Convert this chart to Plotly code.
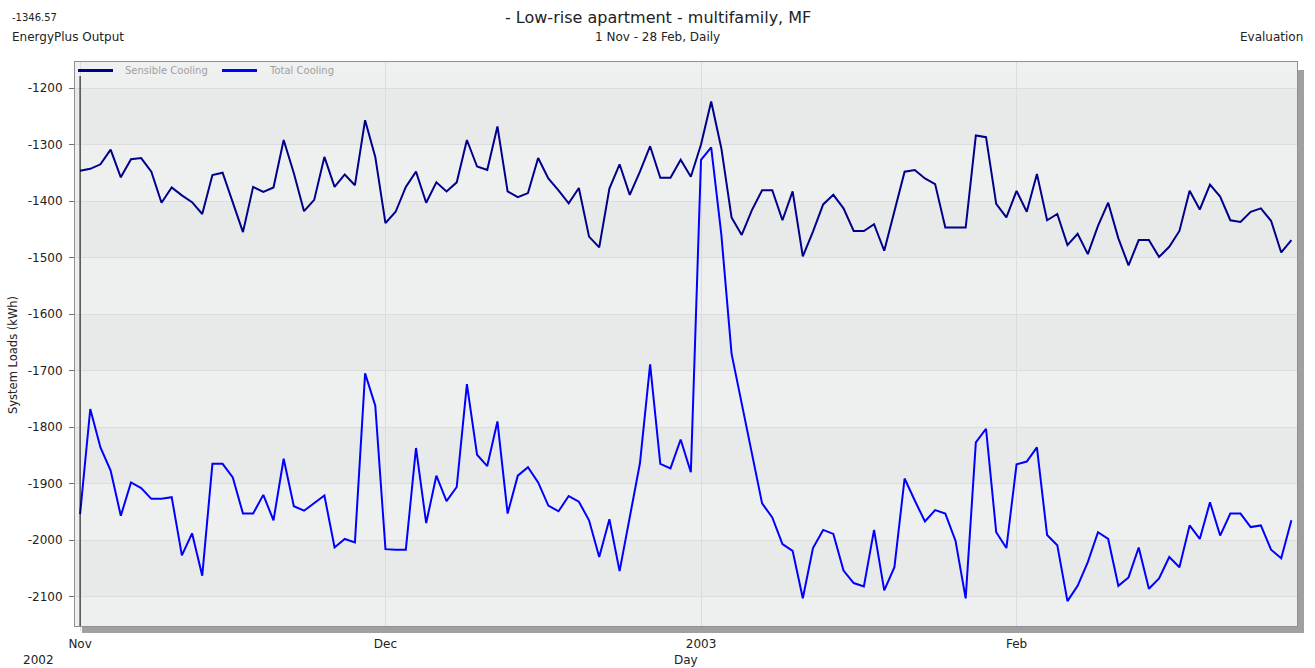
import pandas as pd
import plotly.graph_objects as go

start_date = "2002-11-01"
n_days = 120
days = pd.date_range(start_date, periods=n_days, freq="D")

sensible_cooling = [
    -1346.57, -1343, -1335, -1309, -1358, -1326, -1324, -1348, -1403, -1376,
    -1390, -1402, -1423, -1354, -1350, -1401, -1455, -1375, -1384, -1376,
    -1292, -1351, -1418, -1398, -1322, -1375, -1353, -1372, -1257, -1322,
    -1439, -1419, -1375, -1348, -1403, -1367, -1383, -1367, -1292, -1339,
    -1345, -1268, -1383, -1393, -1386, -1324, -1360, -1381, -1404, -1377,
    -1463, -1482, -1378, -1335, -1389, -1348, -1303, -1359, -1359, -1327,
    -1357, -1300, -1224, -1307, -1429, -1460, -1416, -1381, -1381, -1434,
    -1383, -1498, -1454, -1406, -1389, -1413, -1453, -1453, -1441, -1488,
    -1419, -1348, -1345, -1360, -1370, -1447, -1447, -1447, -1284, -1287,
    -1405, -1429, -1382, -1419, -1352, -1434, -1423, -1478, -1458, -1494,
    -1444, -1403, -1466, -1514, -1469, -1469, -1499, -1481, -1453, -1382,
    -1415, -1371, -1392, -1434, -1437, -1419, -1413, -1435, -1491, -1469,
]

total_cooling = [
    -1954, -1768, -1836, -1877, -1957, -1898, -1908, -1927, -1927, -1924,
    -2027, -1988, -2063, -1865, -1865, -1889, -1953, -1953, -1920, -1965,
    -1856, -1940, -1948, -1935, -1921, -2013, -1998, -2004, -1705, -1762,
    -2016, -2017, -2017, -1837, -1970, -1886, -1931, -1906, -1724, -1849,
    -1869, -1790, -1953, -1886, -1871, -1898, -1939, -1949, -1922, -1932,
    -1965, -2030, -1963, -2055, -1960, -1864, -1689, -1865, -1873, -1822,
    -1880, -1327, -1305, -1460, -1670, -1759, -1850, -1935, -1960, -2007,
    -2019, -2103, -2014, -1982, -1989, -2054, -2076, -2082, -1982, -2089,
    -2048, -1891, -1930, -1967, -1947, -1953, -2001, -2103, -1827, -1803,
    -1986, -2014, -1866, -1861, -1836, -1991, -2009, -2108, -2081, -2039,
    -1986, -1998, -2081, -2066, -2013, -2086, -2068, -2030, -2048, -1974,
    -1998, -1933, -1992, -1953, -1953, -1977, -1974, -2017, -2032, -1965,
]

x_tick_dates = ["2002-11-01", "2002-12-01", "2003-01-01", "2003-02-01"]
x_tick_labels = ["Nov", "Dec", "2003", "Feb"]
y_tick_values = [-1200, -1300, -1400, -1500, -1600, -1700, -1800, -1900, -2000, -2100]
y_tick_labels = ["-1200", "-1300", "-1400", "-1500", "-1600", "-1700", "-1800", "-1900", "-2000", "-2100"]
series_names = ["Sensible Cooling", "Total Cooling"]
series_colors = ["#00008B", "#0000FF"]

FONT = "DejaVu Sans, Verdana, sans-serif"
TXT = "#222222"
W, H = 1315, 668
ML, MR, MT, MB = 75, 18, 62, 42
PW, PH = W - ML - MR, H - MT - MB


def px(xp):
    return (xp - ML) / PW


def py(yp):
    return (H - MB - yp) / PH


fig = go.Figure()
for name, vals, col in zip(series_names, [sensible_cooling, total_cooling], series_colors):
    fig.add_trace(go.Scatter(x=days, y=vals, mode="lines", name=name,
                             line=dict(color=col, width=2), showlegend=False))

shapes = []
dark_bands = [(-1200, -1300), (-1400, -1500), (-1600, -1700), (-1800, -1900), (-2000, -2100)]
for y0, y1 in dark_bands:
    shapes.append(dict(type="rect", xref="paper", yref="y", x0=0, x1=1, y0=y0, y1=y1,
                       fillcolor="#e8e9e9", line=dict(width=0), layer="below"))
shapes.append(dict(type="rect", xref="paper", yref="paper", x0=0, x1=1, y0=py(76), y1=1,
                   fillcolor="#eff0f0", line=dict(width=0), layer="between"))
# shadow
shapes.append(dict(type="rect", xref="paper", yref="paper", x0=px(82), x1=px(1304),
                   y0=py(633), y1=py(627), fillcolor="#a0a0a0", line=dict(width=0)))
shapes.append(dict(type="rect", xref="paper", yref="paper", x0=px(1298), x1=px(1304),
                   y0=py(633), y1=py(70), fillcolor="#a0a0a0", line=dict(width=0)))
# black line at start
shapes.append(dict(type="line", xref="x", yref="paper", x0=days[0], x1=days[0],
                   y0=0, y1=py(76), line=dict(color="black", width=1)))

leg_x = [(78, 113, 123), (222, 257, 267)]
annotations = []
for (a, b, t), name, col in zip(leg_x, series_names, series_colors):
    shapes.append(dict(type="line", xref="paper", yref="paper", x0=px(a), x1=px(b),
                       y0=py(70.5), y1=py(70.5), line=dict(color=col, width=3)))
    annotations.append(dict(xref="paper", yref="paper", x=px(t), y=py(70.5), text=name,
                            showarrow=False, xanchor="left", yanchor="middle",
                            font=dict(size=10, color="#a0a0a0", family=FONT)))


def txt(x, y, s, size, anchor="center", angle=0):
    return dict(xref="paper", yref="paper", x=px(x), y=py(y), text=s, showarrow=False,
                xanchor=anchor, yanchor="middle", textangle=angle,
                font=dict(size=size, color=TXT, family=FONT))


annotations += [
    txt(10, 17, "-1346.57", 10, "left"),
    txt(10, 37, "EnergyPlus Output", 12, "left"),
    txt(657.5, 17, "- Low-rise apartment - multifamily, MF", 16),
    txt(657.5, 37, "1 Nov - 28 Feb, Daily", 12),
    txt(1305, 37, "Evaluation", 12, "right"),
    txt(38, 660, "2002", 12),
    txt(686, 660, "Day", 12),
    txt(13, 355, "System Loads (kWh)", 11.5, angle=-90),
]

x0 = pd.Timestamp(start_date) - pd.Timedelta(hours=12)
x1 = pd.Timestamp(start_date) + pd.Timedelta(days=119.55)

fig.update_layout(
    width=W, height=H,
    margin=dict(l=ML, r=MR, t=MT, b=MB),
    paper_bgcolor="white", plot_bgcolor="#eef0f0",
    font=dict(family=FONT, size=12, color=TXT),
    shapes=shapes, annotations=annotations,
    xaxis=dict(range=[x0, x1], tickvals=x_tick_dates, ticktext=x_tick_labels,
               showgrid=True, gridcolor="#dcdcdc", gridwidth=1, zeroline=False,
               showline=True, linecolor="#909090", linewidth=1, mirror=True,
               ticks="outside", ticklen=4, tickcolor="#d8d8d8", ticklabelstandoff=3,
               tickfont=dict(size=12, color=TXT, family=FONT)),
    yaxis=dict(range=[-2152, -1154], tickvals=y_tick_values, ticktext=y_tick_labels,
               showgrid=True, gridcolor="#dcdcdc", gridwidth=1, zeroline=False,
               showline=True, linecolor="#909090", linewidth=1, mirror=True,
               ticks="outside", ticklen=5, tickcolor="#707070", ticklabelstandoff=4,
               tickfont=dict(size=12, color=TXT, family=FONT)),
)

fig.write_html("out.html", config={"displayModeBar": False},
               post_script="document.body.style.margin='0px';document.body.style.overflow='hidden';")
